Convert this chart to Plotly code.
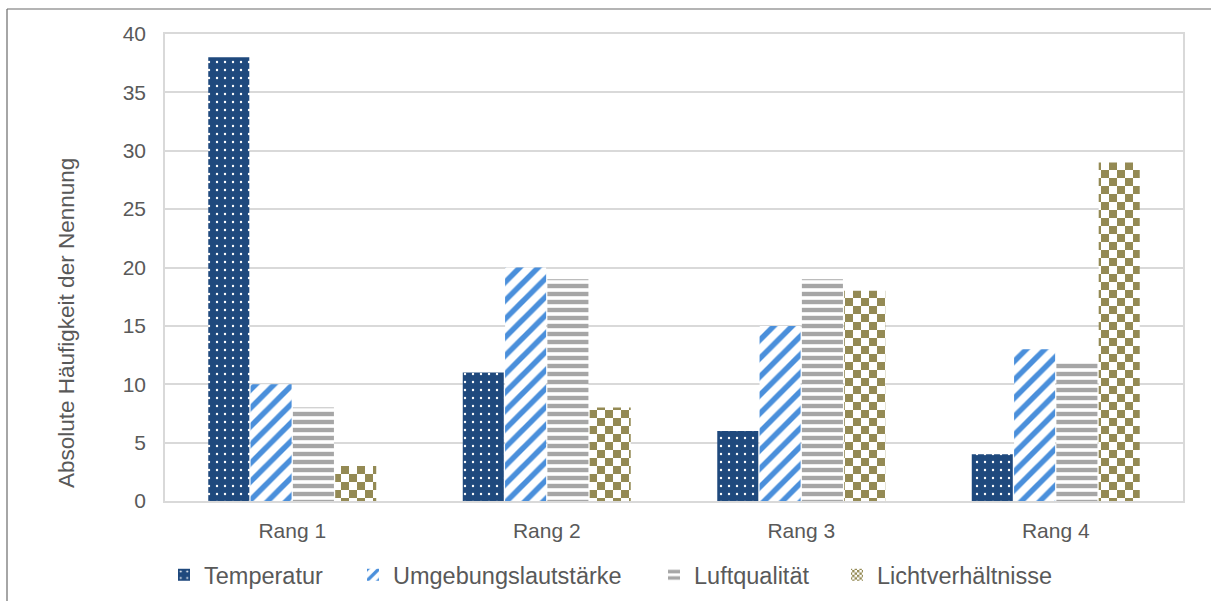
import plotly.graph_objects as go

# Survey data: how often each environmental factor was named at each rank
categories = ["Rang 1", "Rang 2", "Rang 3", "Rang 4"]
temperatur = [38, 11, 6, 4]
umgebungslautstaerke = [10, 20, 15, 13]
luftqualitaet = [8, 19, 19, 12]
lichtverhaeltnisse = [3, 8, 18, 29]

series_names = ["Temperatur", "Umgebungslautstärke", "Luftqualität", "Lichtverhältnisse"]
y_ticks = [0, 5, 10, 15, 20, 25, 30, 35, 40]
y_title = "Absolute Häufigkeit der Nennung"

NAVY = "#1F497D"
BLUE = "#4A8FDB"
GREY = "#A6A6A6"
OLIVE = "#948A54"
TEXT = "#595959"
GRID = "#D9D9D9"
FONT = "Liberation Sans, Arial, sans-serif"

# plot-area geometry in pixels
W, H = 1211, 601
L, R, T, B = 165, 28, 34, 100
PW, PH = W - L - R, H - T - B


def px_x(px):
    return (px - L) / PW


def px_y(py):
    return (H - B - py) / PH


fig = go.Figure()

styles = [
    dict(name=series_names[0], y=temperatur, uid="temp", legend="legend",
         pattern=dict(shape=".", bgcolor=NAVY, fgcolor="#FFFFFF", size=8, solidity=0.07, fillmode="replace")),
    dict(name=series_names[1], y=umgebungslautstaerke, uid="laut", legend="legend2",
         pattern=dict(shape="/", bgcolor="#FFFFFF", fgcolor=BLUE, size=13, solidity=0.42, fillmode="replace")),
    dict(name=series_names[2], y=luftqualitaet, uid="luft", legend="legend3",
         pattern=dict(shape="-", bgcolor="#FFFFFF", fgcolor=GREY, size=8, solidity=0.55, fillmode="replace")),
    dict(name=series_names[3], y=lichtverhaeltnisse, uid="licht", legend="legend4",
         pattern=dict(shape="+", bgcolor="#FFFFFF", fgcolor=OLIVE, size=16, solidity=0.5, fillmode="replace")),
]

for s in styles:
    base = s["pattern"]["fgcolor"] if s["pattern"]["bgcolor"] == "#FFFFFF" else s["pattern"]["bgcolor"]
    fig.add_trace(go.Bar(
        x=categories, y=s["y"], name=s["name"], uid=s["uid"], legend=s["legend"],
        marker=dict(color=base, pattern=s["pattern"], line=dict(width=0)),
        hoverinfo="x+y+name",
    ))

legend_common = dict(orientation="h", yanchor="middle", xanchor="left", y=px_y(575),
                     font=dict(family=FONT, size=23.5, color=TEXT), bgcolor="rgba(0,0,0,0)",
                     borderwidth=0)
legend_left_px = [164, 353, 654, 837]

fig.update_layout(
    width=W, height=H,
    margin=dict(l=L, r=R, t=T, b=B, autoexpand=False),
    paper_bgcolor="#FFFFFF", plot_bgcolor="#FFFFFF",
    barmode="group", bargap=0.335, bargroupgap=0.03,
    font=dict(family=FONT, color=TEXT),
    showlegend=True,
    legend=dict(legend_common, x=px_x(legend_left_px[0])),
    legend2=dict(legend_common, x=px_x(legend_left_px[1])),
    legend3=dict(legend_common, x=px_x(legend_left_px[2])),
    legend4=dict(legend_common, x=px_x(legend_left_px[3])),
    xaxis=dict(
        showline=True, mirror=True, linecolor=GRID, linewidth=1.5,
        showgrid=False, ticks="", tickfont=dict(family=FONT, size=21, color=TEXT),
        ticklabelstandoff=10,
    ),
    yaxis=dict(
        range=[0, 40], tickvals=y_ticks, showline=True, mirror=True,
        linecolor=GRID, linewidth=1.5, gridcolor=GRID, gridwidth=1.5, zeroline=False,
        ticks="", tickfont=dict(family=FONT, size=21, color=TEXT), ticklabelstandoff=13,
    ),
    annotations=[
        dict(text=y_title, xref="paper", yref="paper", x=px_x(66), y=px_y(323),
             xanchor="center", yanchor="middle", textangle=-90, showarrow=False,
             font=dict(family=FONT, size=22.5, color=TEXT)),
    ],
    shapes=[
        dict(type="line", xref="paper", yref="paper", x0=px_x(7), x1=px_x(W + 2),
             y0=px_y(9), y1=px_y(9), line=dict(color="#6B6B6B", width=1.2)),
        dict(type="line", xref="paper", yref="paper", x0=px_x(7), x1=px_x(7),
             y0=px_y(9), y1=px_y(H + 2), line=dict(color="#6B6B6B", width=1.2)),
    ],
)

# checkerboard fill for the light-conditions series
checker_js = """
var gd = document.getElementById('{plot_id}');
function checkerFill() {
  var ns = 'http://www.w3.org/2000/svg';
  var pats = gd.querySelectorAll('pattern[id$="-licht"]');
  pats.forEach(function (p) {
    var s = p.id.indexOf('legend') >= 0 ? 6 : 16;
    p.setAttribute('width', s);
    p.setAttribute('height', s);
    while (p.firstChild) { p.removeChild(p.firstChild); }
    function rect(x, y, w, h, c) {
      var e = document.createElementNS(ns, 'rect');
      e.setAttribute('x', x); e.setAttribute('y', y);
      e.setAttribute('width', w); e.setAttribute('height', h);
      e.setAttribute('fill', c);
      p.appendChild(e);
    }
    rect(0, 0, s, s, '#FFFFFF');
    rect(0, 0, s / 2, s / 2, '""" + OLIVE + """');
    rect(s / 2, s / 2, s / 2, s / 2, '""" + OLIVE + """');
  });
}
checkerFill();
gd.on('plotly_afterplot', checkerFill);
"""

fig.write_html("out.html", post_script=checker_js)
